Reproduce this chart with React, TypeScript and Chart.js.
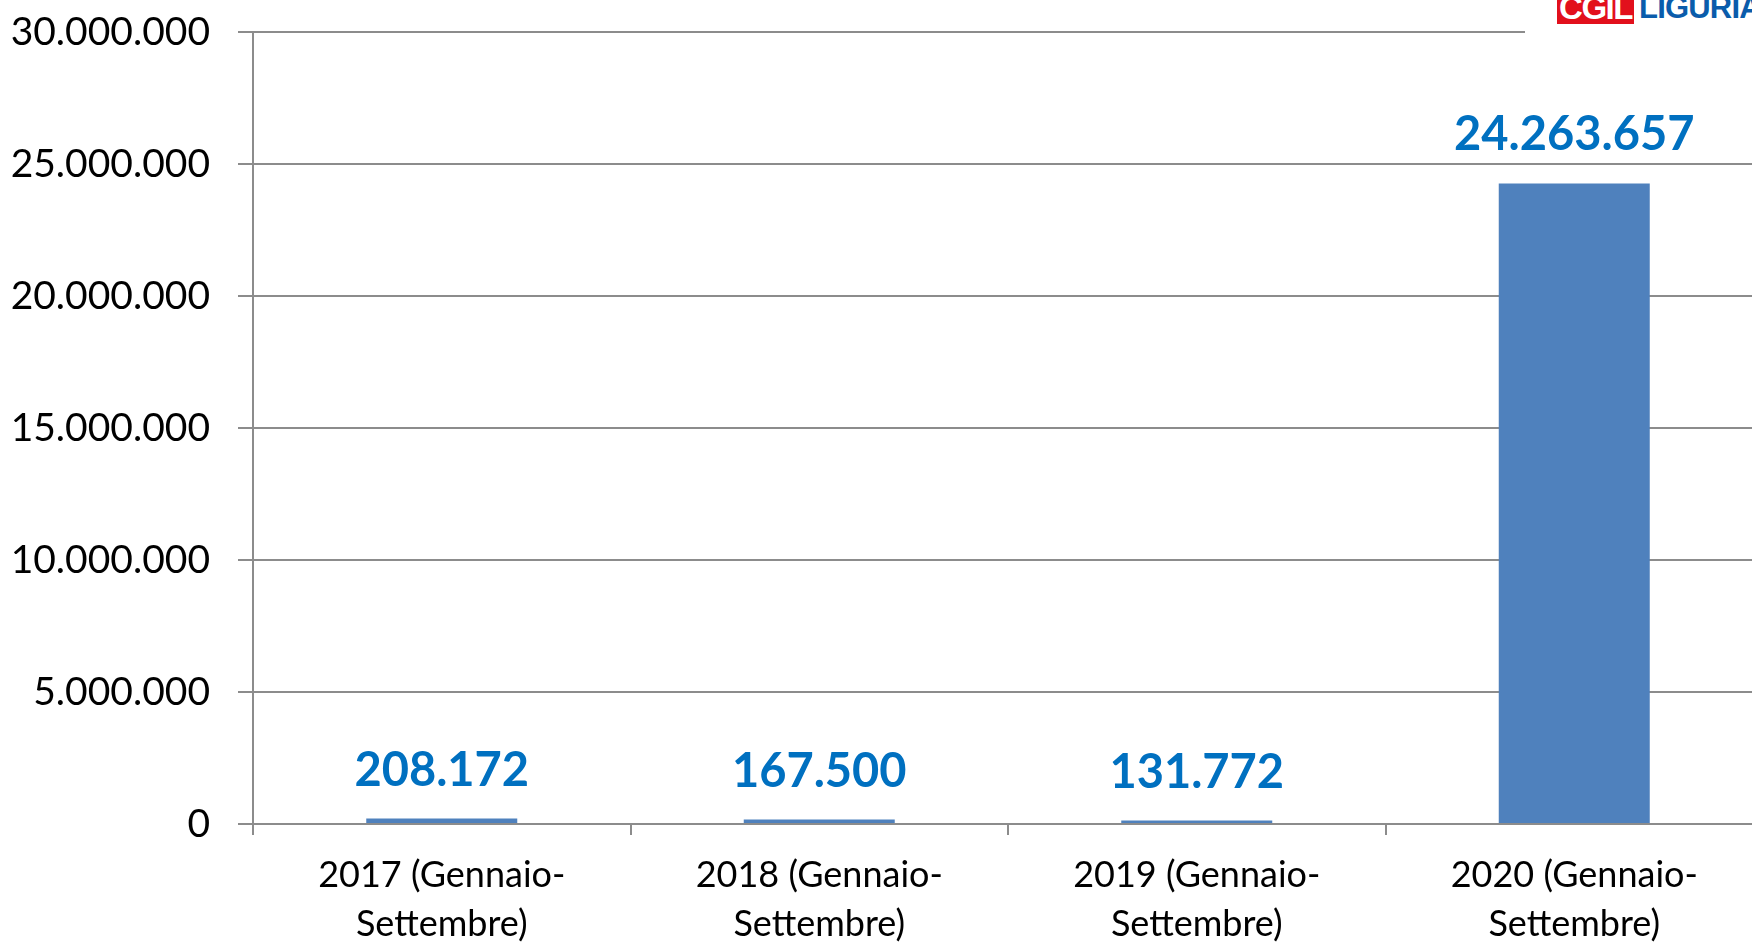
import React, { useEffect, useRef } from "react";
import { Chart, registerables } from "chart.js";

Chart.register(...registerables);

const categories: string[][] = [
  ["2017 (Gennaio-", "Settembre)"],
  ["2018 (Gennaio-", "Settembre)"],
  ["2019 (Gennaio-", "Settembre)"],
  ["2020 (Gennaio-", "Settembre)"],
];
const values: number[] = [208172, 167500, 131772, 24263657];
const yMin = 0;
const yMax = 30000000;
const yStep = 5000000;

const FONT = "Lato, 'Open Sans', sans-serif";
const GRID = "#8c8c8c";

const fmt = (n: number) =>
  Math.round(n).toString().replace(/\B(?=(\d{3})+(?!\d))/g, ".");

const labelPlugin = {
  id: "barValueLabels",
  afterDatasetsDraw(chart: any) {
    const ctx = chart.ctx;
    const meta = chart.getDatasetMeta(0);
    ctx.save();
    ctx.font = `bold 47px ${FONT}`;
    ctx.fillStyle = "#0070C0";
    ctx.textAlign = "center";
    ctx.textBaseline = "alphabetic";
    meta.data.forEach((bar: any, i: number) => {
      ctx.fillText(fmt(values[i]), bar.x, bar.y - 33);
    });
    ctx.restore();
  },
};

export default function App() {
  const ref = useRef<HTMLCanvasElement | null>(null);

  useEffect(() => {
    if (!ref.current) return;
    const chart = new Chart(ref.current, {
      type: "bar",
      data: {
        labels: categories,
        datasets: [
          {
            data: values,
            backgroundColor: "#4F81BD",
            barPercentage: 0.4,
            categoryPercentage: 1,
          },
        ],
      },
      options: {
        animation: false,
        responsive: false,
        maintainAspectRatio: false,
        layout: { padding: { top: 32, left: 0, right: 0, bottom: 0 } },
        plugins: {
          legend: { display: false },
          tooltip: { enabled: false },
          title: { display: false },
        },
        scales: {
          x: {
            afterFit: (s: any) => {
              s.height = 118;
              s.paddingLeft = 0;
              s.paddingRight = 0;
            },
            grid: {
              display: true,
              drawOnChartArea: false,
              drawTicks: true,
              tickLength: 11,
              color: GRID,
              lineWidth: 2,
              offset: true,
            },
            border: { display: true, color: GRID, width: 2 },
            ticks: {
              color: "#000",
              padding: 16,
              maxRotation: 0,
              autoSkip: false,
              font: { family: FONT, size: 36, lineHeight: 1.35 },
            },
          },
          y: {
            min: yMin,
            max: yMax,
            afterFit: (s: any) => {
              s.width = 253;
              s.paddingTop = 0;
              s.paddingBottom = 0;
            },
            grid: {
              color: GRID,
              lineWidth: 2,
              tickLength: 15,
              drawTicks: true,
            },
            border: { display: true, color: GRID, width: 2 },
            ticks: {
              stepSize: yStep,
              color: "#000",
              padding: 28,
              font: { family: FONT, size: 39 },
              callback: (v: any) => fmt(Number(v)),
            },
          },
        },
      },
      plugins: [labelPlugin],
    });
    return () => chart.destroy();
  }, []);

  return (
    <div
      style={{
        position: "fixed",
        left: 0,
        top: 0,
        width: 1752,
        height: 942,
        overflow: "hidden",
        background: "#fff",
      }}
    >
      <canvas
        ref={ref}
        width={1763}
        height={942}
        style={{ position: "absolute", left: 0, top: 0, width: 1763, height: 942 }}
      />
      <div
        style={{
          position: "absolute",
          left: 1525,
          top: 0,
          width: 227,
          height: 26,
          background: "#fff",
          overflow: "hidden",
        }}
      >
        <div
          style={{
            position: "absolute",
            left: 32,
            top: -8,
            width: 77,
            height: 32,
            background: "#E2101C",
            color: "#fff",
            fontFamily: "'Liberation Sans', Arial, sans-serif",
            fontWeight: 900,
            fontSize: 33,
            lineHeight: "32px",
            textAlign: "center",
            letterSpacing: -1.5,
            overflow: "hidden",
          }}
        >
          CGIL
        </div>
        <div
          style={{
            position: "absolute",
            left: 114,
            top: -8,
            color: "#0A5CAB",
            fontFamily: "'Liberation Sans', Arial, sans-serif",
            fontWeight: 900,
            fontSize: 31,
            lineHeight: "32px",
            letterSpacing: -0.8,
            whiteSpace: "nowrap",
          }}
        >
          LIGURIA
        </div>
      </div>
      <div
        style={{
          position: "absolute",
          left: 1525,
          top: 26,
          width: 227,
          height: 12,
          background: "#fff",
        }}
      />
    </div>
  );
}
